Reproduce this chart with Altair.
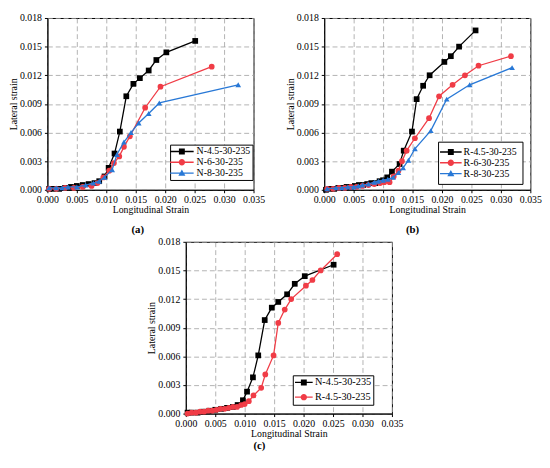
import altair as alt
import pandas as pd

# ---------------- data ----------------
# Panel (a): N series
n45_x = [0.0003, 0.0010, 0.0020, 0.0030, 0.0040, 0.0050, 0.0060, 0.0070, 0.0080, 0.0088, 0.0097,
         0.0104, 0.0114, 0.0123, 0.0134, 0.0146, 0.0157, 0.0172, 0.0185, 0.0202, 0.0251]
n45_y = [0.0001, 0.0001, 0.0001, 0.0002, 0.0003, 0.0004, 0.0005, 0.0006, 0.0007, 0.0009, 0.0014,
         0.0023, 0.0038, 0.0061, 0.0098, 0.0111, 0.0117, 0.0125, 0.0136, 0.0144, 0.0156]
n6_x = [0.0003, 0.0015, 0.0030, 0.0045, 0.0060, 0.0075, 0.0085, 0.0095, 0.0105, 0.0113, 0.0122,
        0.0130, 0.0140, 0.0166, 0.0192, 0.0279]
n6_y = [0.0001, 0.0001, 0.0002, 0.0002, 0.0003, 0.0004, 0.0007, 0.0013, 0.0020, 0.0028, 0.0035,
        0.0045, 0.0056, 0.0086, 0.0108, 0.0129]
n8_x = [0.0003, 0.0015, 0.0025, 0.0035, 0.0050, 0.0065, 0.0078, 0.0088, 0.0097, 0.0110, 0.0118,
        0.0130, 0.0142, 0.0155, 0.0172, 0.0190, 0.0324]
n8_y = [0.0002, 0.0002, 0.0002, 0.0003, 0.0003, 0.0005, 0.0007, 0.0009, 0.0013, 0.0021, 0.0037,
        0.0050, 0.0060, 0.0070, 0.0080, 0.0091, 0.0110]

# Panel (b): R series
r45_x = [0.0003, 0.0010, 0.0017, 0.0024, 0.0031, 0.0038, 0.0045, 0.0052, 0.0059, 0.0066, 0.0073,
         0.0080, 0.0087, 0.0094, 0.0100, 0.0107, 0.0115, 0.0128, 0.0135, 0.0149, 0.0157, 0.0168,
         0.0179, 0.0204, 0.0215, 0.0229, 0.0257]
r45_y = [0.0000, 0.0001, 0.0001, 0.0002, 0.0002, 0.0003, 0.0003, 0.0004, 0.0005, 0.0005, 0.0006,
         0.0007, 0.0007, 0.0009, 0.0010, 0.0013, 0.0019, 0.0027, 0.0041, 0.0061, 0.0095, 0.0109,
         0.0120, 0.0134, 0.0140, 0.0150, 0.0167]
r6_x = [0.0005, 0.0015, 0.0025, 0.0035, 0.0045, 0.0055, 0.0065, 0.0075, 0.0085, 0.0095, 0.0102,
        0.0111, 0.0118, 0.0126, 0.0132, 0.0140, 0.0154, 0.0178, 0.0195, 0.0218, 0.0239, 0.0262, 0.0317]
r6_y = [0.0001, 0.0001, 0.0002, 0.0002, 0.0003, 0.0003, 0.0004, 0.0005, 0.0006, 0.0007, 0.0008,
        0.0008, 0.0014, 0.0020, 0.0030, 0.0041, 0.0054, 0.0075, 0.0098, 0.0110, 0.0120, 0.0130, 0.0140]
r8_x = [0.0005, 0.0020, 0.0030, 0.0040, 0.0050, 0.0058, 0.0065, 0.0075, 0.0085, 0.0092, 0.0100,
        0.0108, 0.0117, 0.0126, 0.0134, 0.0143, 0.0154, 0.0181, 0.0208, 0.0247, 0.0319]
r8_y = [0.0001, 0.0002, 0.0002, 0.0003, 0.0003, 0.0004, 0.0005, 0.0006, 0.0008, 0.0009, 0.0010,
        0.0011, 0.0013, 0.0018, 0.0023, 0.0031, 0.0043, 0.0062, 0.0095, 0.0110, 0.0128]

x_ticks = [0.000, 0.005, 0.010, 0.015, 0.020, 0.025, 0.030, 0.035]
y_ticks = [0.000, 0.003, 0.006, 0.009, 0.012, 0.015, 0.018]

FONT = "Liberation Serif"
BLACK = "#000000"
RED = "#F03C46"
BLUE = "#2878D6"


def sym_paths(half):
    # legend glyph: a short line segment with the marker on it
    line = f"M-{half},-0.14H{half}V0.14H-{half}Z"
    return (line + "M-0.6,-0.6H0.6V0.6H-0.6Z",
            line + "M-0.65,0A0.65,0.65 0 1,1 0.65,0A0.65,0.65 0 1,1 -0.65,0Z",
            line + "M0,-0.72L0.72,0.55H-0.72Z")


W, H = 210, 175


def panel(series, title, title_dx, title_offset, leg):
    rows = []
    for name, xs, ys, color, shape, path in series:
        for xv, yv in zip(xs, ys):
            rows.append({"series": name, "x": xv, "y": yv})
    df = pd.DataFrame(rows)

    xenc = alt.X("x:Q", scale=alt.Scale(domain=[0, 0.035], nice=False, zero=False),
                 axis=alt.Axis(values=x_ticks, format=".3f", title="Longitudinal Strain",
                               labelPadding=2, titlePadding=0, labelFlush=False,
                               labelOverlap=False))
    yenc = alt.Y("y:Q", scale=alt.Scale(domain=[0, 0.018], nice=False, zero=False),
                 axis=alt.Axis(values=y_ticks, format=".3f", title="Lateral strain",
                               labelPadding=3, titlePadding=1, labelFlush=False,
                               labelOverlap=False))
    layers = []
    for name, xs, ys, color, shape, path in series:
        base = alt.Chart(df).transform_filter(alt.datum.series == name)
        layers.append(base.mark_line(color=color, strokeWidth=1.3).encode(x=xenc, y=yenc))
        layers.append(base.mark_point(shape=shape, filled=True, size=34, color=color,
                                      opacity=1).encode(x=xenc, y=yenc))
    names = [s[0] for s in series]
    colors = [s[3] for s in series]
    paths = [s[5] for s in series]
    lg = alt.Legend(orient="none", legendX=leg["x"], legendY=leg["y"], title=None,
                    labelFont=FONT, labelFontSize=leg["fs"], labelColor=BLACK,
                    symbolSize=100, symbolStrokeWidth=0, padding=leg["pad"],
                    rowPadding=leg["rowpad"], symbolOffset=leg["so"], labelOffset=leg["lo"],
                    strokeColor=BLACK, fillColor="white", cornerRadius=0)
    legend_layer = alt.Chart(df).transform_filter("false").mark_point(
        filled=True, opacity=1).encode(
        x=xenc, y=yenc,
        color=alt.Color("series:N", scale=alt.Scale(domain=names, range=colors), legend=lg),
        shape=alt.Shape("series:N", scale=alt.Scale(domain=names, range=paths), legend=lg),
    )
    layers.append(legend_layer)
    return alt.layer(*layers).properties(
        width=W, height=H,
        title=alt.TitleParams(title, orient="bottom", anchor="middle", frame="group",
                              dx=title_dx, offset=title_offset, font=FONT, fontSize=11,
                              fontWeight="bold", color=BLACK),
    )


sqA, ciA, trA = sym_paths(2.4)
sqB, ciB, trB = sym_paths(2.2)
sqC, ciC, trC = sym_paths(1.8)

pa = panel([
    ("N-4.5-30-235", n45_x, n45_y, BLACK, "square", sqA),
    ("N-6-30-235", n6_x, n6_y, RED, "circle", ciA),
    ("N-8-30-235", n8_x, n8_y, BLUE, "triangle-up", trA),
], "(a)", -13, 10, dict(x=125, y=129, fs=10, pad=2, rowpad=1, so=5, lo=10))

pb = panel([
    ("R-4.5-30-235", r45_x, r45_y, BLACK, "square", sqB),
    ("R-6-30-235", r6_x, r6_y, RED, "circle", ciB),
    ("R-8-30-235", r8_x, r8_y, BLUE, "triangle-up", trB),
], "(b)", -15, 10, dict(x=116, y=126, fs=10, pad=5.5, rowpad=1, so=2.5, lo=8))

pc = panel([
    ("N-4.5-30-235", n45_x, n45_y, BLACK, "square", sqC),
    ("R-4.5-30-235", r45_x, r45_y, RED, "circle", ciC),
], "(c)", -30, 2, dict(x=109, y=136, fs=10.5, pad=2, rowpad=4, so=4, lo=6))

top = alt.hconcat(pa, pb, spacing=20).resolve_scale(color="independent", shape="independent")
chart = alt.vconcat(top, pc, spacing=0, center=True).resolve_scale(
    color="independent", shape="independent"
).properties(padding=0).configure(
    font=FONT
).configure_axis(
    labelFont=FONT, titleFont=FONT, labelFontSize=10, titleFontSize=10,
    titleFontWeight="normal", labelColor=BLACK, titleColor=BLACK,
    tickColor=BLACK, tickSize=3, domainColor=BLACK, domainWidth=1,
    grid=True, gridColor="#A0A0A0", gridDash=[5, 3], gridWidth=0.8,
).configure_view(stroke=BLACK, strokeWidth=1)

chart.save("out.html", embed_options={"renderer": "svg", "actions": False})
